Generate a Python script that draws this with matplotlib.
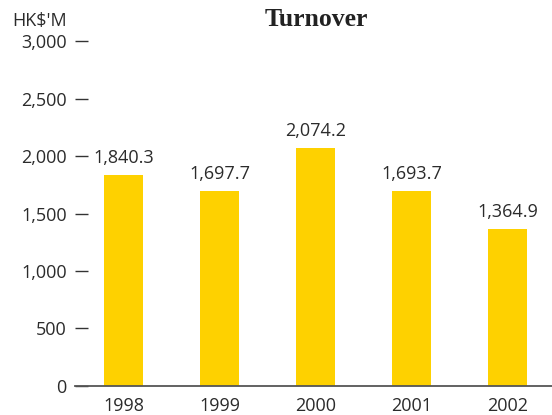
import matplotlib.pyplot as plt
from matplotlib.ticker import FuncFormatter

years = ["1998", "1999", "2000", "2001", "2002"]
turnover = [1840.3, 1697.7, 2074.2, 1693.7, 1364.9]
yticks = [0, 500, 1000, 1500, 2000, 2500, 3000]

bar_color = "#FED100"
text_color = "#2b2b2b"

plt.rcParams["font.family"] = ["Open Sans", "DejaVu Sans"]

W, H = 552, 415
fig = plt.figure(figsize=(W / 100, H / 100), dpi=100)
ax = fig.add_axes([75 / W, 1 - 385.7 / H, 1 - 75 / W, (385.7 - 41.5) / H])

x = list(range(len(years)))
ax.bar(x, turnover, width=0.406, color=bar_color, zorder=2)

for xi, v in zip(x, turnover):
    ax.annotate(f"{v:,.1f}", (xi, v), xytext=(0, 8.6), textcoords="offset points",
                ha="center", va="baseline", fontsize=13, color=text_color)

ax.set_xlim(-0.505, 4.464)
ax.set_ylim(0, 3000)
ax.set_xticks(x)
ax.set_xticklabels(years)
ax.set_yticks(yticks)
ax.yaxis.set_major_formatter(FuncFormatter(lambda v, p: f"{v:,.0f}"))

for s in ["top", "right", "left"]:
    ax.spines[s].set_visible(False)
ax.spines["bottom"].set_color("#555555")
ax.spines["bottom"].set_linewidth(1.3)

ax.tick_params(axis="y", direction="in", length=9, width=1.0, pad=6,
               colors=text_color, labelsize=13)
ax.tick_params(axis="x", length=0, pad=8, colors=text_color, labelsize=13)
for t in ax.yaxis.get_major_ticks():
    t.tick1line.set_clip_on(False)
    t.tick1line.set_markeredgecolor("#333333")

fig.text(67 / W, 1 - 25.7 / H, "HK$'M", ha="right", va="baseline",
         fontsize=13, color=text_color)
fig.text(316 / W, 1 - 26 / H, "Turnover", ha="center", va="baseline",
         fontsize=18.5, fontweight="bold", family="Liberation Serif", color="#222222")

fig.savefig("out.png", dpi=100)
